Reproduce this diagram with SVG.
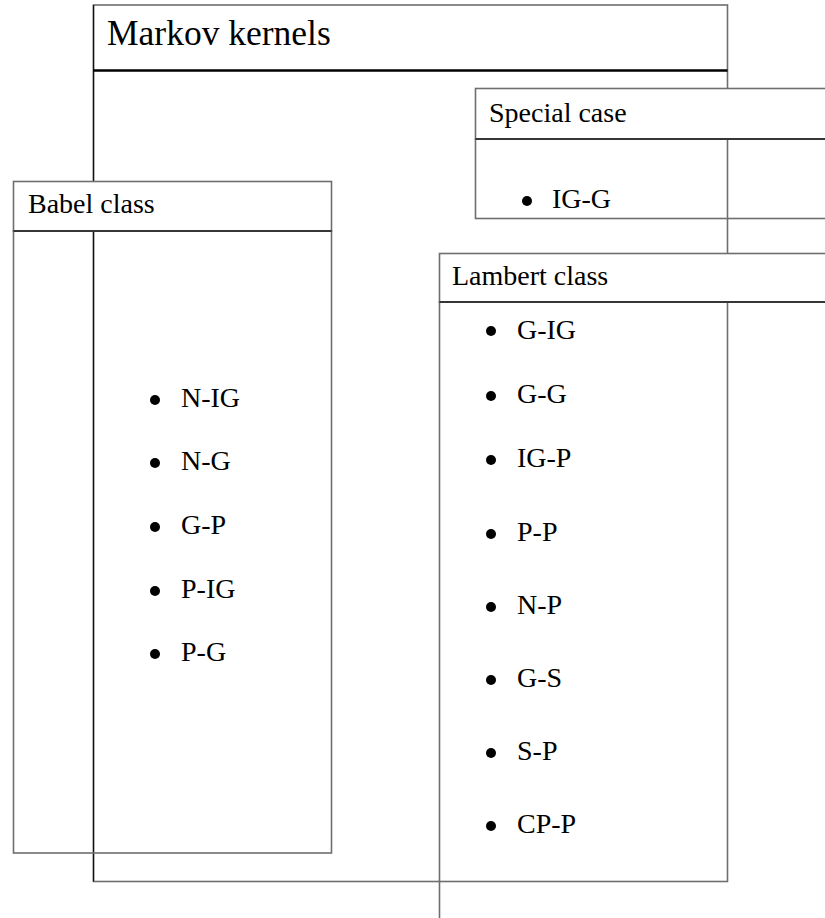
<svg xmlns="http://www.w3.org/2000/svg" width="825" height="918" viewBox="0 0 825 918">
<style>
.box{fill:none;stroke:#6e6e6e;stroke-width:1.6}
.hdr{fill:#fff;stroke:#6e6e6e;stroke-width:1.6}
.sep{stroke:#222;stroke-width:1.6}
.t{font-family:"Liberation Serif","Times New Roman",serif;fill:#000}
.title{font-size:35.5px}
.h{font-size:28px}
.i{font-size:28px}
.b{fill:#000}
</style>
<rect width="825" height="918" fill="#fff"/>
<g id="markov-kernels">
<rect class="box" x="93.5" y="5" width="634" height="876.5" fill="#fff"/>
<line x1="93.5" y1="5" x2="93.5" y2="881.5" stroke="#111" stroke-width="1.3"/>
<line x1="93.5" y1="70.5" x2="727.5" y2="70.5" stroke="#000" stroke-width="2.4"/>
<text class="t title" x="107" y="45">Markov kernels</text>
</g>
<g id="special-case">
<rect class="hdr" x="475.5" y="88.5" width="360" height="50.5"/>
<rect class="box" x="475.5" y="139" width="360" height="79.5"/>
<line class="sep" x1="475.5" y1="139" x2="825" y2="139"/>
<text class="t h" x="489" y="122">Special case</text>
<circle class="b" cx="527" cy="201" r="5"/>
<text class="t i" x="552" y="208">IG-G</text>
</g>
<g id="babel-class">
<rect class="hdr" x="13.5" y="181.5" width="318" height="49.5"/>
<rect class="box" x="13.5" y="231" width="318" height="622"/>
<line class="sep" x1="13.5" y1="231" x2="331.5" y2="231"/>
<text class="t h" x="28" y="213">Babel class</text>
<circle class="b" cx="155" cy="400" r="5"/>
<text class="t i" x="181" y="407">N-IG</text>
<circle class="b" cx="155" cy="463" r="5"/>
<text class="t i" x="181" y="470">N-G</text>
<circle class="b" cx="155" cy="527" r="5"/>
<text class="t i" x="181" y="534">G-P</text>
<circle class="b" cx="155" cy="591" r="5"/>
<text class="t i" x="181" y="598">P-IG</text>
<circle class="b" cx="155" cy="654" r="5"/>
<text class="t i" x="181" y="661">P-G</text>
</g>
<g id="lambert-class">
<rect class="hdr" x="439.5" y="253.5" width="400" height="48.5"/>
<rect class="box" x="439.5" y="302" width="400" height="640"/>
<line class="sep" x1="439.5" y1="302" x2="825" y2="302"/>
<text class="t h" x="452" y="285">Lambert class</text>
<circle class="b" cx="491" cy="331" r="5"/>
<text class="t i" x="517" y="339">G-IG</text>
<circle class="b" cx="491" cy="396" r="5"/>
<text class="t i" x="517" y="403">G-G</text>
<circle class="b" cx="491" cy="460" r="5"/>
<text class="t i" x="517" y="467">IG-P</text>
<circle class="b" cx="491" cy="534" r="5"/>
<text class="t i" x="517" y="541">P-P</text>
<circle class="b" cx="491" cy="607" r="5"/>
<text class="t i" x="517" y="614">N-P</text>
<circle class="b" cx="491" cy="680" r="5"/>
<text class="t i" x="517" y="687">G-S</text>
<circle class="b" cx="491" cy="753" r="5"/>
<text class="t i" x="517" y="760">S-P</text>
<circle class="b" cx="491" cy="826" r="5"/>
<text class="t i" x="517" y="833">CP-P</text>
</g>
</svg>
